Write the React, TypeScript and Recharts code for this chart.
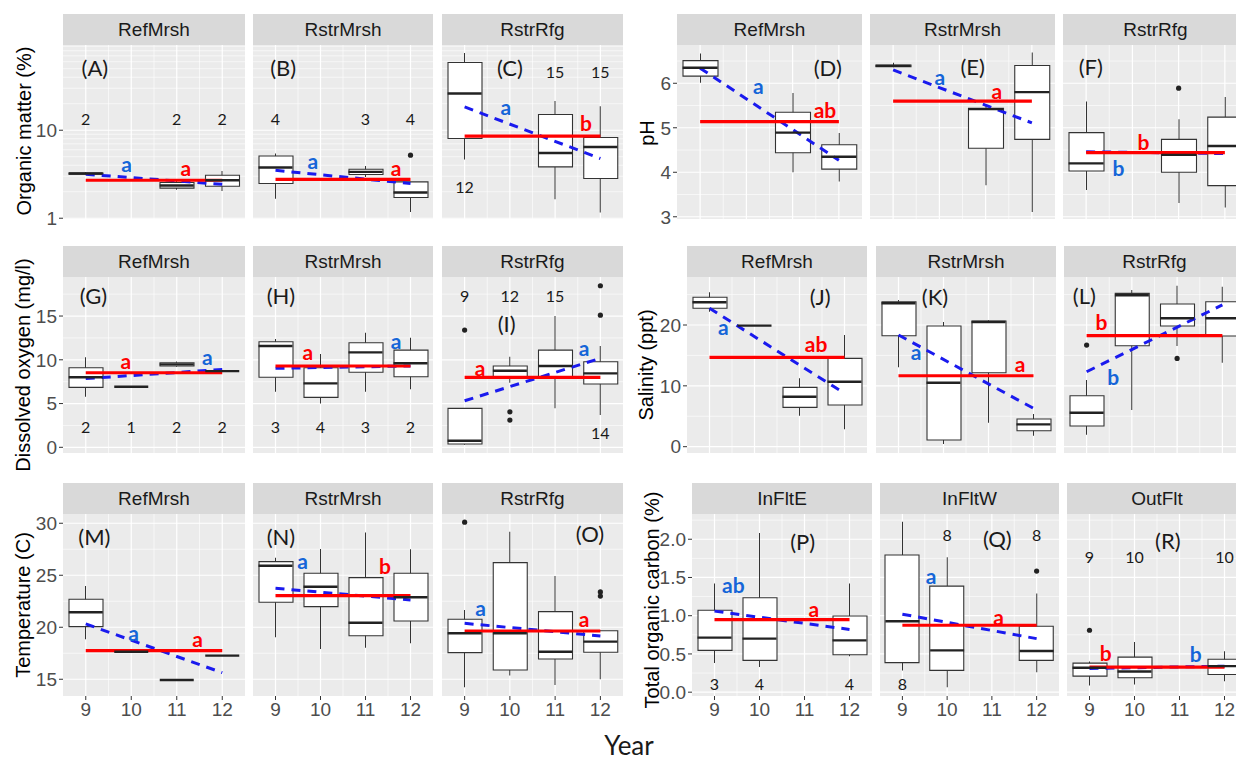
import { Bar, CartesianGrid, ComposedChart, Line, Scatter, XAxis, YAxis } from 'recharts'

const YEARS = [9, 10, 11, 12]

// box per year: [min, q1, median, q3, max], null = no samples that year
type Box = number[] | null
// outlier: [year, value]
type Out = [number, number]
// [mean (red), trend at 9, trend at 12 (blue)]
type Lines = [number, number, number]
// [x, y, text, kind]  kind: t = panel tag, n = sample size, r = red letter, b = blue letter
type Note = [number, number, string, string]

// ---- Organic matter (%) ----
const boxA: Box[] = [[3.12, 3.16, 3.22, 3.27, 3.32], null, [2.1, 2.2, 2.35, 2.55, 2.65], [2.04, 2.31, 2.7, 3.08, 3.45]]
const outA: Out[] = []
const lineA: Lines = [2.7, 3.16, 2.43]
const notesA: Note[] = [[9.2, 52, '(A)', 't'], [9.9, 4.2, 'a', 'b'], [11.2, 3.8, 'a', 'r'], [9, 13.7, '2', 'n'], [11, 13.7, '2', 'n'], [12, 13.7, '2', 'n']]

const boxB: Box[] = [[1.67, 2.48, 3.77, 5.1, 5.43], null, [2.95, 3.14, 3.36, 3.6, 3.93], [1.18, 1.72, 1.96, 2.59, 2.59]]
const outB: Out[] = [[12, 5.2]]
const lineB: Lines = [2.77, 3.5, 2.48]
const notesB: Note[] = [[9.17, 52, '(B)', 't'], [9.83, 4.5, 'a', 'b'], [11.68, 3.8, 'a', 'r'], [9, 13.7, '4', 'n'], [11, 13.7, '3', 'n'], [12, 13.7, '4', 'n']]

const boxC: Box[] = [[4.65, 8.05, 26.1, 58.8, 75.6], null, [1.64, 3.83, 5.52, 15.1, 21.5], [1.16, 2.83, 6.46, 8.26, 18.7]]
const outC: Out[] = []
const lineC: Lines = [8.55, 18.4, 4.77]
const notesC: Note[] = [[10.0, 52, '(C)', 't'], [9.91, 18.4, 'a', 'b'], [11.68, 12.1, 'b', 'r'], [11, 46, '15', 'n'], [12, 46, '15', 'n'], [9, 2.27, '12', 'n']]

// ---- pH ----
const boxD: Box[] = [[6.01, 6.16, 6.35, 6.51, 6.67], null, [4.0, 4.44, 4.89, 5.35, 5.78], [3.79, 4.07, 4.35, 4.62, 4.88]]
const outD: Out[] = []
const lineD: Lines = [5.14, 6.34, 4.27]
const notesD: Note[] = [[11.76, 6.35, '(D)', 't'], [10.26, 5.94, 'a', 'b'], [11.7, 5.4, 'ab', 'r']]

const boxE: Box[] = [[6.36, 6.37, 6.39, 6.41, 6.46], null, [3.71, 4.54, 5.42, 5.44, 5.49], [3.11, 4.74, 5.8, 6.4, 6.69]]
const outE: Out[] = []
const lineE: Lines = [5.6, 6.3, 5.11]
const notesE: Note[] = [[10.72, 6.37, '(E)', 't'], [10.01, 6.15, 'a', 'b'], [11.24, 5.83, 'a', 'r']]

const boxF: Box[] = [[3.6, 4.03, 4.2, 4.89, 5.59], null, [3.31, 4.0, 4.39, 4.74, 5.19], [3.21, 3.7, 4.59, 5.24, 5.69]]
const outF: Out[] = [[11, 5.89]]
const lineF: Lines = [4.44, 4.46, 4.42]
const notesF: Note[] = [[9.1, 6.37, '(F)', 't'], [10.24, 4.69, 'b', 'r'], [9.7, 4.1, 'b', 'b']]

// ---- Dissolved oxygen (mg/l) ----
const boxG: Box[] = [[5.78, 6.85, 8.0, 9.09, 10.28], [6.92, 6.92, 6.92, 6.92, 6.92], [9.2, 9.29, 9.48, 9.66, 9.8], [8.71, 8.71, 8.71, 8.71, 8.71]]
const outG: Out[] = []
const lineG: Lines = [8.52, 7.85, 8.9]
const notesG: Note[] = [[9.17, 17.4, '(G)', 't'], [9.88, 9.9, 'a', 'r'], [11.67, 10.4, 'a', 'b'], [9, 2.35, '2', 'n'], [10, 2.35, '1', 'n'], [11, 2.35, '2', 'n'], [12, 2.35, '2', 'n']]

const boxH: Box[] = [[6.35, 8.0, 11.57, 12.06, 12.37], [5.02, 5.71, 7.31, 9.09, 10.66], [6.35, 8.57, 10.85, 11.95, 13.09], [6.62, 8.06, 9.6, 11.11, 12.52]]
const outH: Out[] = []
const lineH: Lines = [9.29, 9.02, 9.3]
const notesH: Note[] = [[9.12, 17.4, '(H)', 't'], [9.72, 10.9, 'a', 'r'], [11.68, 12.26, 'a', 'b'], [9, 2.35, '3', 'n'], [10, 2.35, '4', 'n'], [11, 2.35, '3', 'n'], [12, 2.35, '2', 'n']]

const boxI: Box[] = [[0.3, 0.37, 0.75, 4.45, 4.45], [7.38, 8.06, 8.75, 9.29, 10.35], [4.45, 8.06, 9.29, 11.11, 15.0], [3.69, 7.23, 8.45, 9.78, 11.57]]
const outI: Out[] = [[9, 13.4], [10, 4.06], [10, 3.11], [12, 18.46], [12, 15.1]]
const lineI: Lines = [8.0, 5.32, 10.17]
const notesI: Note[] = [[9.93, 14.2, '(I)', 't'], [9.34, 9.1, 'a', 'r'], [11.64, 11.4, 'a', 'b'], [9, 17.4, '9', 'n'], [10, 17.3, '12', 'n'], [11, 17.4, '15', 'n'], [12, 1.66, '14', 'n']]

// ---- Salinity (ppt) ----
const boxJ: Box[] = [[22.19, 22.75, 23.73, 24.56, 25.38], [19.9, 19.9, 19.9, 19.9, 19.9], [5.08, 6.46, 8.2, 9.75, 11.23], [2.85, 6.84, 10.67, 14.52, 18.36]]
const outJ: Out[] = []
const lineJ: Lines = [14.69, 22.75, 8.77]
const notesJ: Note[] = [[11.46, 24.7, '(J)', 't'], [9.31, 19.7, 'a', 'b'], [11.37, 16.9, 'ab', 'r']]

const boxK: Box[] = [[13.04, 18.24, 23.57, 23.83, 24.11], [0.44, 1.1, 10.5, 19.84, 20.5], [3.93, 12.15, 20.5, 20.66, 20.8], [1.79, 2.62, 3.67, 4.54, 5.36]]
const outK: Out[] = []
const lineK: Lines = [11.66, 18.36, 6.3]
const notesK: Note[] = [[9.81, 24.7, '(K)', 't'], [9.39, 15.6, 'a', 'b'], [11.7, 13.7, 'a', 'r']]

const boxL: Box[] = [[1.97, 3.39, 5.57, 8.37, 10.95], [6.02, 16.6, 24.9, 25.2, 25.76], [16.55, 19.84, 21.1, 23.45, 26.46], [13.8, 18.19, 21.1, 23.83, 26.3]]
const outL: Out[] = [[9, 16.7], [11, 14.5]]
const lineL: Lines = [18.24, 12.32, 23.3]
const notesL: Note[] = [[8.95, 24.9, '(L)', 't'], [9.33, 20.5, 'b', 'r'], [9.59, 11.5, 'b', 'b']]

// ---- Temperature (C) ----
const boxM: Box[] = [[18.85, 20.06, 21.44, 22.69, 23.97], [17.65, 17.65, 17.65, 17.65, 17.65], [14.93, 14.93, 14.93, 14.93, 14.93], [17.27, 17.27, 17.27, 17.27, 17.27]]
const outM: Out[] = []
const lineM: Lines = [17.75, 20.32, 15.63]
const notesM: Note[] = [[9.19, 28.7, '(M)', 't'], [10.05, 19.48, 'a', 'b'], [11.46, 18.94, 'a', 'r']]

const boxN: Box[] = [[19.04, 22.4, 25.92, 26.31, 26.69], [17.91, 21.98, 23.9, 25.19, 27.53], [18.04, 19.19, 20.44, 24.77, 29.1], [18.46, 20.6, 22.88, 25.19, 27.5]]
const outN: Out[] = []
const lineN: Lines = [23.04, 23.75, 22.63]
const notesN: Note[] = [[9.12, 28.7, '(N)', 't'], [9.6, 26.4, 'a', 'b'], [11.43, 25.9, 'b', 'r']]

const boxO: Box[] = [[14.23, 17.56, 19.42, 20.77, 21.66], [15.35, 15.89, 19.42, 26.21, 29.19], [14.45, 16.95, 17.65, 21.5, 24.93], [15.0, 17.6, 18.62, 19.67, 19.67]]
const outO: Out[] = [[9, 30.1], [12, 23.4], [12, 23.0]]
const lineO: Lines = [19.64, 20.38, 19.16]
const notesO: Note[] = [[11.77, 29.0, '(O)', 't'], [9.35, 21.92, 'a', 'b'], [11.64, 20.87, 'a', 'r']]

// ---- Total organic carbon (%) ----
const boxP: Box[] = [[0.38, 0.547, 0.714, 1.072, 1.42], [0.33, 0.416, 0.7, 1.234, 2.08], null, [0.47, 0.49, 0.678, 0.997, 1.42]]
const outP: Out[] = []
const lineP: Lines = [0.95, 1.06, 0.82]
const notesP: Note[] = [[10.96, 1.97, '(P)', 't'], [9.42, 1.41, 'ab', 'b'], [11.21, 1.1, 'a', 'r'], [9, 0.12, '3', 'n'], [10, 0.12, '4', 'n'], [12, 0.12, '4', 'n']]

const boxQ: Box[] = [[0.285, 0.386, 0.928, 1.794, 2.23], [0.066, 0.285, 0.547, 1.387, 1.764], null, [0.262, 0.416, 0.538, 0.862, 1.29]]
const outQ: Out[] = [[12, 1.584]]
const lineQ: Lines = [0.875, 1.02, 0.7]
const notesQ: Note[] = [[11.12, 2.01, '(Q)', 't'], [9.64, 1.52, 'a', 'b'], [11.15, 0.985, 'a', 'r'], [9, 0.11, '8', 'n'], [10, 2.06, '8', 'n'], [12, 2.06, '8', 'n']]

const boxR: Box[] = [[0.088, 0.21, 0.32, 0.38, 0.4], [0.1, 0.189, 0.27, 0.459, 0.656], null, [0.144, 0.232, 0.341, 0.43, 0.534]]
const outR: Out[] = [[9, 0.81]]
const lineR: Lines = [0.328, 0.31, 0.34]
const notesR: Note[] = [[10.74, 1.98, '(R)', 't'], [9.36, 0.525, 'b', 'r'], [11.36, 0.5, 'b', 'b'], [9, 1.78, '9', 'n'], [10, 1.78, '10', 'n'], [12, 1.78, '10', 'n']]

type PanelDef = { name: string; left: number; w: number; box: Box[]; out: Out[]; line: Lines; notes: Note[] }
type Group = {
  title: string; tx: number; ty: number; top: number; h: number
  domain: [number, number]; log?: boolean; ticks: number[]; minor: number[]
  fmt?: (v: number) => string; bottom?: boolean; panels: PanelDef[]
}

const GROUPS: Group[] = [
  {
    title: 'Organic matter (%)', tx: 24, ty: 131, top: 45, h: 174, domain: [0.98, 93], log: true,
    ticks: [1, 10], minor: [2, 3, 4, 5, 6, 7, 8, 9, 20, 30, 40, 50, 60, 70, 80, 90],
    panels: [
      { name: 'RefMrsh', left: 63, w: 182, box: boxA, out: outA, line: lineA, notes: notesA },
      { name: 'RstrMrsh', left: 253, w: 180, box: boxB, out: outB, line: lineB, notes: notesB },
      { name: 'RstrRfg', left: 442, w: 181, box: boxC, out: outC, line: lineC, notes: notesC },
    ],
  },
  {
    title: 'pH', tx: 647, ty: 133, top: 45, h: 174, domain: [2.95, 6.86],
    ticks: [3, 4, 5, 6], minor: [3.5, 4.5, 5.5, 6.5],
    panels: [
      { name: 'RefMrsh', left: 677, w: 185, box: boxD, out: outD, line: lineD, notes: notesD },
      { name: 'RstrMrsh', left: 870, w: 185, box: boxE, out: outE, line: lineE, notes: notesE },
      { name: 'RstrRfg', left: 1063, w: 185, box: boxF, out: outF, line: lineF, notes: notesF },
    ],
  },
  {
    title: 'Dissolved oxygen (mg/l)', tx: 23, ty: 365, top: 277, h: 176, domain: [-0.65, 19.46],
    ticks: [0, 5, 10, 15], minor: [2.5, 7.5, 12.5, 17.5],
    panels: [
      { name: 'RefMrsh', left: 63, w: 182, box: boxG, out: outG, line: lineG, notes: notesG },
      { name: 'RstrMrsh', left: 253, w: 180, box: boxH, out: outH, line: lineH, notes: notesH },
      { name: 'RstrRfg', left: 442, w: 181, box: boxI, out: outI, line: lineI, notes: notesI },
    ],
  },
  {
    title: 'Salinity (ppt)', tx: 646, ty: 365, top: 277, h: 176, domain: [-1.04, 27.89],
    ticks: [0, 10, 20], minor: [5, 15, 25],
    panels: [
      { name: 'RefMrsh', left: 687, w: 180, box: boxJ, out: outJ, line: lineJ, notes: notesJ },
      { name: 'RstrMrsh', left: 876, w: 180, box: boxK, out: outK, line: lineK, notes: notesK },
      { name: 'RstrRfg', left: 1064, w: 181, box: boxL, out: outL, line: lineL, notes: notesL },
    ],
  },
  {
    title: 'Temperature (C)', tx: 23, ty: 605, top: 514, h: 182, domain: [13.39, 30.89], bottom: true,
    ticks: [15, 20, 25, 30], minor: [17.5, 22.5, 27.5],
    panels: [
      { name: 'RefMrsh', left: 63, w: 182, box: boxM, out: outM, line: lineM, notes: notesM },
      { name: 'RstrMrsh', left: 253, w: 180, box: boxN, out: outN, line: lineN, notes: notesN },
      { name: 'RstrRfg', left: 442, w: 181, box: boxO, out: outO, line: lineO, notes: notesO },
    ],
  },
  {
    title: 'Total organic carbon (%)', tx: 652, ty: 600, top: 514, h: 182, domain: [-0.05, 2.33], bottom: true,
    ticks: [0, 0.5, 1, 1.5, 2], minor: [0.25, 0.75, 1.25, 1.75, 2.25], fmt: (v) => v.toFixed(1),
    panels: [
      { name: 'InFltE', left: 692, w: 180, box: boxP, out: outP, line: lineP, notes: notesP },
      { name: 'InFltW', left: 880, w: 179, box: boxQ, out: outQ, line: lineQ, notes: notesQ },
      { name: 'OutFlt', left: 1067, w: 180, box: boxR, out: outR, line: lineR, notes: notesR },
    ],
  },
]

const SANS = '"Liberation Sans", Arial, sans-serif'
const NOTE_FONT = 'Lato, "Open Sans", sans-serif'
const YW = 50
const XH = 34
const PAD = 12 // room under the plot so the lowest y tick label is not clipped

function NoteShape(props: any) {
  const { cx, cy, payload } = props
  if (cx == null || cy == null) return <g />
  const k = payload.k
  const style =
    k === 't' ? { fontSize: 22, fill: '#1a1a1a', fontWeight: 400 }
    : k === 'n' ? { fontSize: 16, fill: '#1a1a1a', fontWeight: 400 }
    : k === 'r' ? { fontSize: 21, fill: '#ff0000', fontWeight: 700 }
    : { fontSize: 21, fill: '#1565d8', fontWeight: 700 }
  return (
    <text x={cx} y={cy} textAnchor="middle" dominantBaseline="central" fontFamily={NOTE_FONT} {...style}>
      {payload.t}
    </text>
  )
}

function Panel({ g, p, first }: { g: Group; p: PanelDef; first: boolean }) {
  const yw = first ? YW : 0
  const xh = g.bottom ? XH : 0
  const pad = g.bottom ? 0 : PAD
  const bs = Math.round((p.w / 4) * 0.75)
  const rows = YEARS.map((year, i) => {
    const b = p.box[i]
    return { year, box: b ? [b[1], b[3]] : null, whisk: b ? [b[0], b[4]] : null }
  })
  const meds = YEARS.map((x, i) => (p.box[i] ? { x, y: p.box[i]![2] } : null)).filter(Boolean)
  const outs = p.out.map(([x, y]) => ({ x, y }))
  const mean = [{ x: 9, y: p.line[0] }, { x: 12, y: p.line[0] }]
  const trend = [{ x: 9, y: p.line[1] }, { x: 12, y: p.line[2] }]
  const notes = p.notes.map(([x, y, t, k]) => ({ x, y, t, k }))

  return (
    <>
      <div style={{
        position: 'absolute', left: p.left, top: g.top - 31, width: p.w, height: 31,
        background: '#d9d9d9', color: '#1a1a1a', fontFamily: SANS, fontSize: 19,
        lineHeight: '31px', textAlign: 'center',
      }}>{p.name}</div>
      <div style={{ position: 'absolute', left: p.left - yw, top: g.top }}>
        <ComposedChart width={p.w + yw} height={g.h + xh + pad} data={rows}
          margin={{ top: 0, right: 0, bottom: pad, left: 0 }}>
          <XAxis xAxisId="cat" dataKey="year" type="category" hide={!g.bottom} height={xh}
            interval={0} tickSize={4} tickMargin={3} axisLine={false}
            tickLine={{ stroke: '#333' }} tick={{ fontSize: 19, fill: '#4d4d4d', fontFamily: SANS }} />
          <XAxis xAxisId="w" dataKey="year" type="category" hide />
          <XAxis xAxisId="num" dataKey="x" type="number" domain={[8.5, 12.5]} allowDataOverflow hide />
          <YAxis yAxisId="y" type="number" scale={g.log ? 'log' : 'linear'} domain={g.domain} allowDataOverflow
            ticks={g.ticks} hide={!first} width={yw} tickSize={4} tickMargin={2} axisLine={false}
            tickLine={{ stroke: '#333' }} tickFormatter={g.fmt ?? ((v: number) => String(v))}
            tick={{ fontSize: 19, fill: '#4d4d4d', fontFamily: SANS }} interval={0} />
          <CartesianGrid xAxisId="num" yAxisId="y" fill="#ebebeb" stroke="#ffffff" strokeWidth={0.6}
            horizontalValues={g.minor} verticalValues={[9.5, 10.5, 11.5]} />
          <CartesianGrid xAxisId="num" yAxisId="y" stroke="#ffffff" strokeWidth={1.2}
            horizontalValues={g.ticks} verticalValues={YEARS} />
          <Bar xAxisId="w" yAxisId="y" dataKey="whisk" barSize={1} fill="#333333" isAnimationActive={false} />
          <Bar xAxisId="cat" yAxisId="y" dataKey="box" barSize={bs} fill="#ffffff" stroke="#333333"
            strokeWidth={1.1} isAnimationActive={false} />
          <Scatter xAxisId="num" yAxisId="y" data={meds} dataKey="y" isAnimationActive={false}
            shape={(s: any) => (
              <line x1={s.cx - bs / 2} x2={s.cx + bs / 2} y1={s.cy} y2={s.cy} stroke="#222" strokeWidth={2.4} />
            )} />
          {outs.length > 0 && (
            <Scatter xAxisId="num" yAxisId="y" data={outs} dataKey="y" isAnimationActive={false}
              shape={(s: any) => <circle cx={s.cx} cy={s.cy} r={2.6} fill="#222" />} />
          )}
          <Line xAxisId="num" yAxisId="y" data={trend} dataKey="y" stroke="#1a1aee" strokeWidth={3}
            strokeDasharray="9 7" dot={false} isAnimationActive={false} />
          <Line xAxisId="num" yAxisId="y" data={mean} dataKey="y" stroke="#ff0000" strokeWidth={3.2}
            dot={false} isAnimationActive={false} />
          <Scatter xAxisId="num" yAxisId="y" data={notes} dataKey="y" shape={NoteShape} isAnimationActive={false} />
        </ComposedChart>
      </div>
    </>
  )
}

export default function App() {
  return (
    <div style={{ position: 'absolute', left: 0, top: 0, width: 1236, height: 760, overflow: 'hidden', background: '#fff' }}>
      {GROUPS.map((g) => (
        <div key={g.title}>
          {g.panels.map((p, i) => <Panel key={p.name + g.title} g={g} p={p} first={i === 0} />)}
          <div style={{
            position: 'absolute', left: g.tx, top: g.ty, transform: 'translate(-50%, -50%) rotate(-90deg)',
            whiteSpace: 'nowrap', fontFamily: SANS, fontSize: 20, color: '#000',
          }}>{g.title}</div>
        </div>
      ))}
      <div style={{
        position: 'absolute', left: 629, top: 745, transform: 'translate(-50%, -50%)',
        fontFamily: NOTE_FONT, fontSize: 26, color: '#1a1a1a',
      }}>Year</div>
    </div>
  )
}
